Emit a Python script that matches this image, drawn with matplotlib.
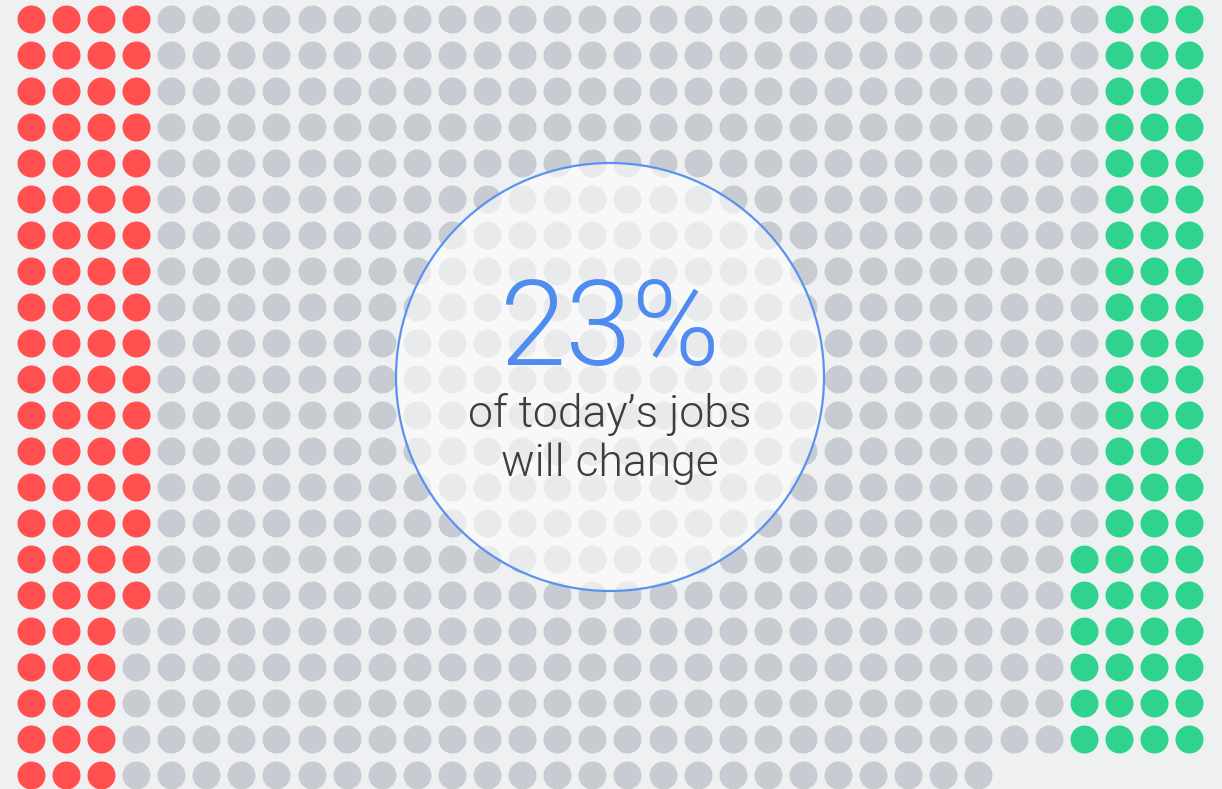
import matplotlib
matplotlib.use("Agg")
import matplotlib.pyplot as plt
from matplotlib.patches import Ellipse
import numpy as np

# ---- data ----
n_cols = 34
n_rows = 22
# dots per row (total), red (left), green (right)
total_per_row = [34] * 21 + [28]
red_per_row = [4] * 17 + [3] * 5
green_per_row = [3] * 15 + [4] * 6 + [0]
headline = "23%"
subtitle = "of today\u2019s jobs\nwill change"

RED = "#ff4f4f"
GRAY = "#c8ccd2"
GREEN = "#30d38e"
BG = "#eff0f2"
BLUE = "#5a93ee"

W, H = 1222, 789
fig = plt.figure(figsize=(W / 100, H / 100), dpi=100, facecolor=BG)
ax = fig.add_axes([0, 0, 1, 1])
ax.set_facecolor(BG)

x0, dx = 30.7, 35.1
y0, dy = 19.0, 36.0
ax.set_xlim(-x0 / dx, (W - x0) / dx)
ax.set_ylim((H - y0) / dy, -y0 / dy)
ax.axis("off")

xs_r, ys_r, xs_g, ys_g, xs_k, ys_k = [], [], [], [], [], []
for r in range(n_rows):
    tot = total_per_row[r]
    nr = red_per_row[r]
    ng = green_per_row[r]
    for c in range(tot):
        if c < nr:
            xs_r.append(c); ys_r.append(r)
        elif ng > 0 and c >= n_cols - ng:
            xs_g.append(c); ys_g.append(r)
        else:
            xs_k.append(c); ys_k.append(r)

diam_pt = 28 * 0.72
s = diam_pt ** 2
ax.scatter(xs_k, ys_k, s=s, c=GRAY, linewidths=0, zorder=2)
ax.scatter(xs_r, ys_r, s=s, c=RED, linewidths=0, zorder=2)
ax.scatter(xs_g, ys_g, s=s, c=GREEN, linewidths=0, zorder=2)

# central circle overlay
cx = (610 - x0) / dx
cy = (377 - y0) / dy
rad = 214
ax.add_patch(Ellipse((cx, cy), 2 * rad / dx, 2 * rad / dy, facecolor="white",
                     edgecolor="none", alpha=0.6, zorder=3))
ax.add_patch(Ellipse((cx, cy), 2 * rad / dx, 2 * rad / dy, facecolor="none",
                     edgecolor=BLUE, linewidth=1.6, zorder=4))

fam = ["Roboto", "DejaVu Sans"]
ax.text(610 / W, 1 - 333 / H, headline, transform=ax.transAxes, ha="center",
        va="center", fontsize=86, color="#4f8cef", fontweight=300,
        family=fam, zorder=5)
ax.text(610 / W, 1 - 439 / H, subtitle, transform=ax.transAxes, ha="center",
        va="center", fontsize=32, color="#3d3d3d", fontweight=300,
        family=fam, linespacing=1.2, zorder=5)

fig.savefig("out.png", dpi=100, facecolor=BG)
